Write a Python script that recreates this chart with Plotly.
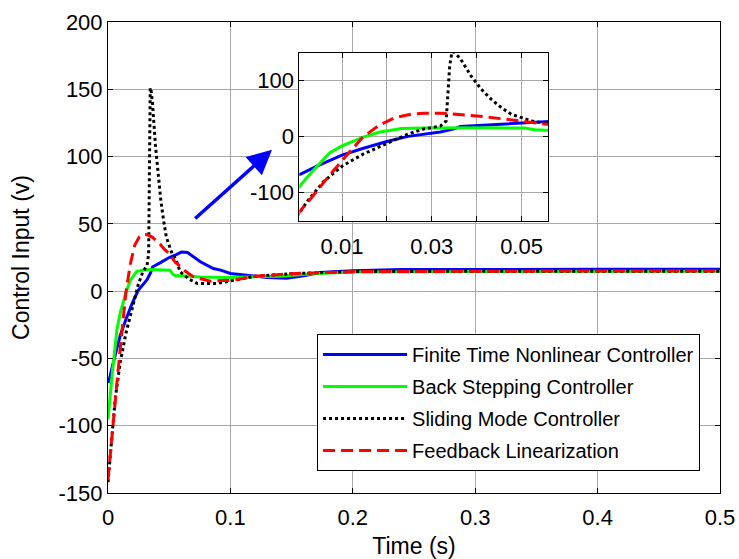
import plotly.graph_objects as go

# ---------------- data ----------------
t_ftnc = [0, 0.0008, 0.0044, 0.01, 0.0146, 0.02, 0.0247, 0.0283, 0.0319, 0.035, 0.0364, 0.0425,
          0.05, 0.0553, 0.06, 0.065, 0.073, 0.0755, 0.086, 0.092, 0.1, 0.116, 0.13, 0.146, 0.16,
          0.173, 0.2, 0.24, 0.3, 0.4, 0.5]
u_ftnc = [-68, -66.7, -52.7, -33, -21, -8.5, 0.6, 5, 8.5, 14, 18, 21,
          25, 27, 29, 28.7, 23, 21.8, 16.8, 15.6, 13.1, 11.5, 10.2, 9.6, 11.5,
          13.9, 15.2, 16, 16.2, 16.3, 16.3]

t_bsc = [0, 0.0008, 0.0037, 0.0073, 0.01, 0.0146, 0.0182, 0.0233, 0.0283, 0.035, 0.0425, 0.0507,
         0.053, 0.0553, 0.06, 0.0755, 0.1, 0.14, 0.167, 0.2, 0.3, 0.4, 0.5]
u_bsc = [-95, -86, -59, -28.5, -16.4, -1.2, 7.9, 14.5, 15.5, 16, 16, 15.5,
         12.5, 11.5, 11.5, 10.5, 10.2, 11.1, 13, 14.2, 14.6, 14.8, 14.8]

t_smc = [0, 0.0023, 0.0059, 0.01, 0.0146, 0.02, 0.0247, 0.0283, 0.0319, 0.0332, 0.0335, 0.034,
         0.0345, 0.035, 0.0364, 0.0387, 0.041, 0.0432, 0.0455, 0.0477, 0.05, 0.0523, 0.0553,
         0.059, 0.066, 0.073, 0.089, 0.105, 0.12, 0.15, 0.2, 0.3, 0.4, 0.5]
u_smc = [-142, -115, -80, -52.7, -31.5, -12, 4.8, 14, 19, 28, 73, 127,
         151, 151, 139, 109, 85, 67, 52, 40, 34, 28, 24,
         14.3, 9, 5.7, 5.7, 8.2, 11, 13, 14.5, 14.8, 14.8, 14.8]

t_fl = [0, 0.0008, 0.0037, 0.0073, 0.0109, 0.0146, 0.0182, 0.0218, 0.0254, 0.0283, 0.032, 0.0364,
        0.0387, 0.0425, 0.0462, 0.05, 0.0553, 0.0565, 0.063, 0.07, 0.0837, 0.103, 0.12, 0.15,
        0.2, 0.3, 0.4, 0.5]
u_fl = [-140, -131.5, -104, -68, -34.5, -1.2, 20, 34, 40, 42, 42, 40,
        38, 35, 31, 28, 21, 20.5, 15, 10.6, 7.4, 8.2, 11, 13,
        14.5, 15, 15, 15]

series_names = ["Finite Time Nonlinear Controller", "Back Stepping Controller",
                "Sliding Mode Controller", "Feedback Linearization"]

x_tick_vals = [0, 0.1, 0.2, 0.3, 0.4, 0.5]
x_tick_text = ["0", "0.1", "0.2", "0.3", "0.4", "0.5"]
y_tick_vals = [-150, -100, -50, 0, 50, 100, 150, 200]
y_tick_text = ["-150", "-100", "-50", "0", "50", "100", "150", "200"]

inset_x_tick_vals = [0.01, 0.02, 0.03, 0.04, 0.05]
inset_x_tick_text = ["0.01", "", "0.03", "", "0.05"]
inset_y_tick_vals = [-100, 0, 100]
inset_y_tick_text = ["-100", "0", "100"]

main_x_range = [0, 0.5]
main_y_range = [-150, 200]
inset_x_range = [0.0005, 0.056]
inset_y_range = [-150, 150]

arrow_tail = (0.070, 53)
arrow_tip = (0.134, 105)

# ---------------- styles ----------------
styles = [
    dict(color="#0000FF", width=3, dash="solid"),
    dict(color="#00FF00", width=3, dash="solid"),
    dict(color="#000000", width=3, dash="3px,3px"),
    dict(color="#FF0000", width=3, dash="12px,6px"),
]
series = [(t_ftnc, u_ftnc), (t_bsc, u_bsc), (t_smc, u_smc), (t_fl, u_fl)]

FONT = "Liberation Sans, Arial, sans-serif"

fig = go.Figure()
for (tx, uy), name, st in zip(series, series_names, styles):
    fig.add_trace(go.Scatter(x=tx, y=uy, mode="lines", name=name, line=st,
                             legendgroup=name, xaxis="x", yaxis="y"))
for (tx, uy), name, st in zip(series, series_names, styles):
    fig.add_trace(go.Scatter(x=tx, y=uy, mode="lines", name=name, line=st,
                             showlegend=False, xaxis="x2", yaxis="y2"))

axis_common = dict(showline=True, linecolor="black", linewidth=1, mirror="ticks",
                   ticks="inside", ticklen=5, tickcolor="black", tickwidth=1,
                   showgrid=True, gridcolor="#a8a8a8", gridwidth=1, zeroline=False,
                   automargin=False,
                   tickfont=dict(size=22, color="black", family=FONT))

fig.update_layout(
    template="none",
    width=739, height=559,
    margin=dict(l=108, r=19, t=22, b=66, pad=0),
    paper_bgcolor="white", plot_bgcolor="white",
    font=dict(family=FONT, color="black"),
    xaxis=dict(range=main_x_range, tickvals=x_tick_vals, ticktext=x_tick_text,
               title=dict(text="Time (s)", font=dict(size=23), standoff=8),
               ticklabelstandoff=5,
               domain=[0, 1], **axis_common),
    yaxis=dict(range=main_y_range, tickvals=y_tick_vals, ticktext=y_tick_text,
               title=dict(text="Control Input (v)", font=dict(size=23), standoff=22),
               domain=[0, 1], **axis_common),
    xaxis2=dict(range=inset_x_range, tickvals=inset_x_tick_vals, ticktext=inset_x_tick_text,
                ticklabelstandoff=6,
                domain=[0.3127, 0.7197], anchor="y2", **axis_common),
    yaxis2=dict(range=inset_y_range, tickvals=inset_y_tick_vals, ticktext=inset_y_tick_text,
                domain=[0.578, 0.935], anchor="x2", **axis_common),
    legend=dict(x=0.3416, y=0.3376, xanchor="left", yanchor="top",
                bgcolor="white", bordercolor="black", borderwidth=1,
                font=dict(size=20, color="black", family=FONT),
                itemwidth=84, tracegroupgap=3),
    showlegend=True,
)

# white background for the inset (covers main grid lines beneath it)
fig.add_shape(type="rect", xref="x2", yref="y2",
              x0=inset_x_range[0], x1=inset_x_range[1],
              y0=inset_y_range[0], y1=inset_y_range[1],
              fillcolor="white", line=dict(width=0), layer="below")

fig.add_annotation(x=arrow_tip[0], y=arrow_tip[1], ax=arrow_tail[0], ay=arrow_tail[1],
                   xref="x", yref="y", axref="x", ayref="y", text="",
                   showarrow=True, arrowhead=2, arrowsize=1.4, arrowwidth=3.5,
                   arrowcolor="#0000FF")

fig.write_html("out.html",
               config={"displayModeBar": False},
               post_script="document.body.style.margin='0';document.body.style.overflow='hidden';")
